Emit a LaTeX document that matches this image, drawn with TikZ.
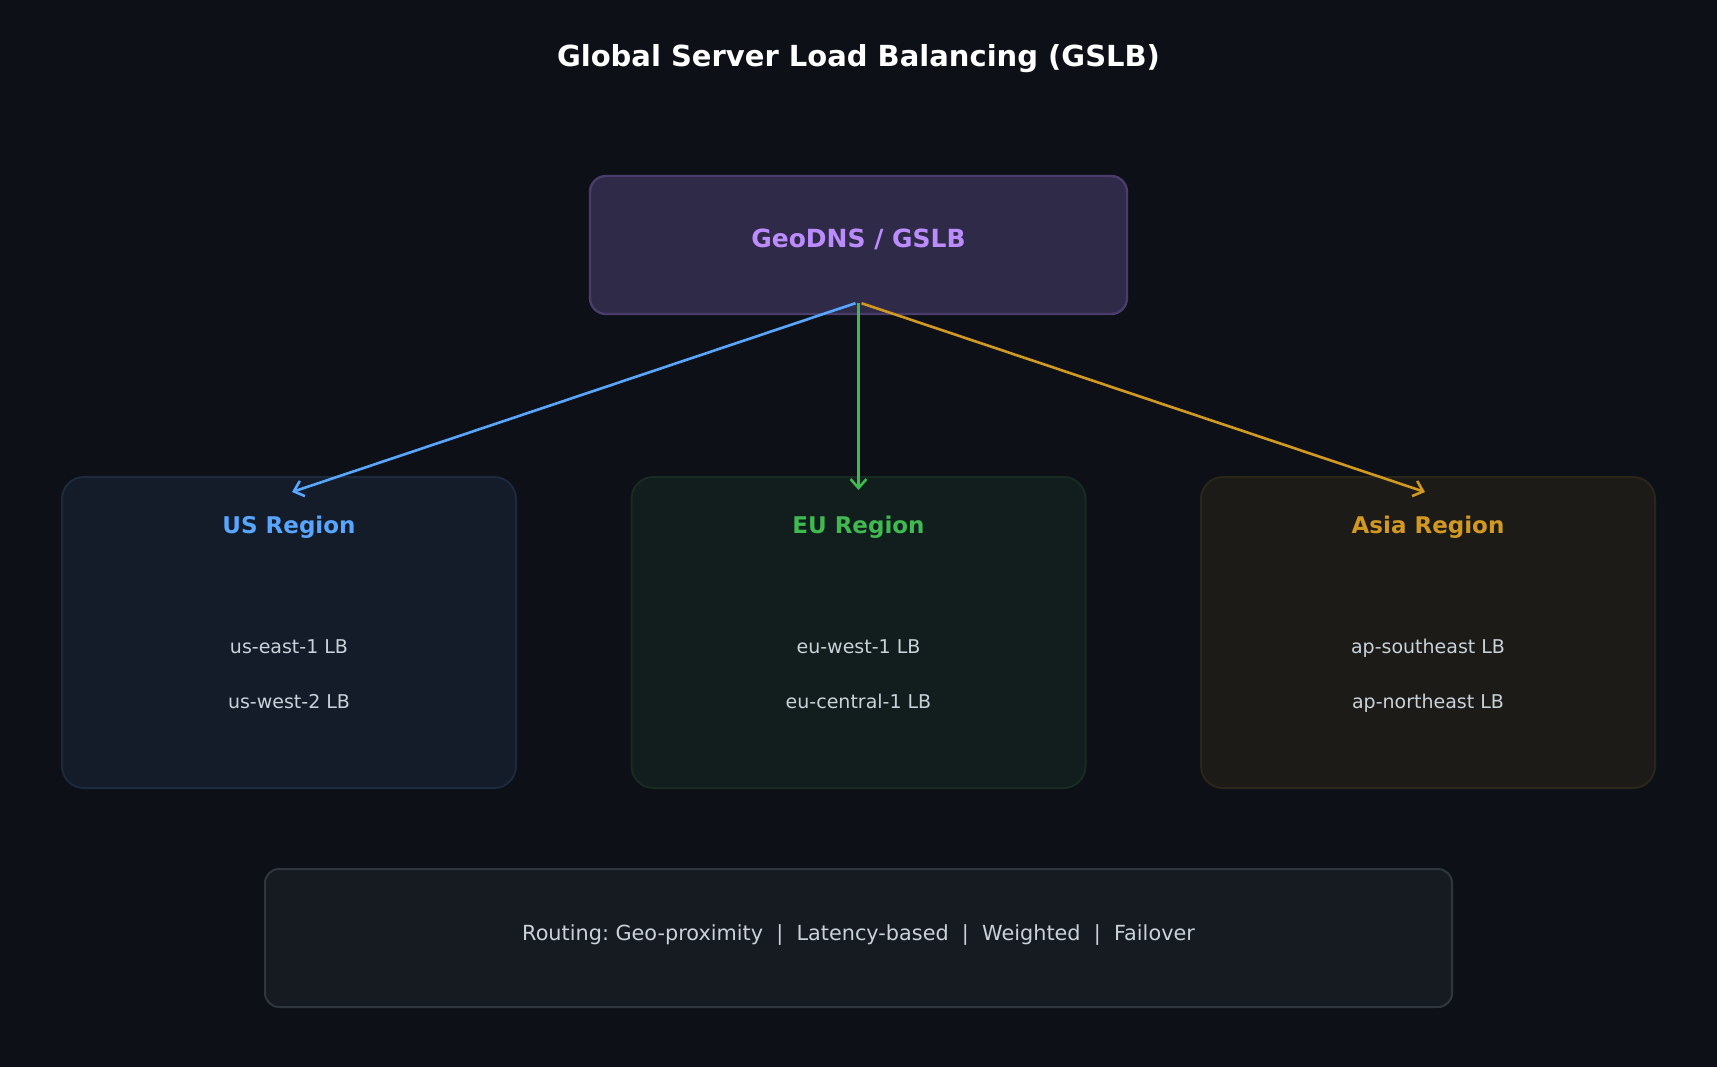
\documentclass[tikz,border=0pt]{standalone}
\usepackage{fontspec}
\setmainfont{DejaVu Sans}
\usetikzlibrary{arrows.meta,calc}
\definecolor{bgdark}{HTML}{0D1117}
\definecolor{geofill}{HTML}{2E2A47}
\definecolor{geoline}{HTML}{4A3D6C}
\definecolor{geotext}{HTML}{BC8CFF}
\definecolor{usblue}{HTML}{58A6FF}
\definecolor{usfill}{HTML}{131C28}
\definecolor{usline}{HTML}{1B2A3D}
\definecolor{eugreen}{HTML}{3FB950}
\definecolor{eufill}{HTML}{111E1D}
\definecolor{euline}{HTML}{172B20}
\definecolor{asiaorange}{HTML}{D29922}
\definecolor{asiafill}{HTML}{1C1B18}
\definecolor{asialine}{HTML}{2A2619}
\definecolor{notefill}{HTML}{161B22}
\definecolor{noteline}{HTML}{30363D}
\definecolor{lbgray}{HTML}{C9D1D9}
\frenchspacing
\tikzset{
  regbox/.style 2 args={rectangle, rounded corners=11pt, draw=#1, fill=#2, line width=1pt,
               minimum width=227pt, minimum height=155.5pt},
  regtitle/.style={font=\fontsize{11.5}{14}\selectfont\bfseries, text=#1},
  lbtext/.style={font=\fontsize{9.5}{12}\selectfont, text=lbgray, text height=0.75em, text depth=0.22em},
  arr/.style={-{Straight Barb[length=4.5pt, width=8pt, line width=1.3pt]}, line width=1.3pt, draw=#1},
}
\begin{document}
\begin{tikzpicture}[x=0.5pt, y=-0.5pt]
  \fill[bgdark] (0,0) rectangle (1717,1067);
  \useasboundingbox (0,0) rectangle (1717,1067);
  \node[font=\fontsize{14.5}{17}\selectfont\bfseries, text=white] (title) at (858.5,59) {Global Server Load Balancing (GSLB)};
  % dns front
  \node[rectangle, rounded corners=8pt, draw=geoline, fill=geofill, line width=1.2pt,
        minimum width=268.5pt, minimum height=69pt] (geo) at (858.5,245) {};
  \node[font=\fontsize{12.5}{15}\selectfont\bfseries, text=geotext] (geolbl) at (858.5,239) {GeoDNS / GSLB};
  % regions
  \node[regbox={usline}{usfill}] (us) at (289,632.5) {};
  \node[regbox={euline}{eufill}] (eu) at (858.5,632.5) {};
  \node[regbox={asialine}{asiafill}] (asia) at (1428,632.5) {};
  \node[regtitle=usblue] (ust) at ($(us.north)+(0,51)$) {US Region};
  \node[lbtext] (us1) at ($(us.north)+(0,172)$) {us-east-1 LB};
  \node[lbtext] (us2) at ($(us.north)+(0,227)$) {us-west-2 LB};
  \node[regtitle=eugreen] (eut) at ($(eu.north)+(0,51)$) {EU Region};
  \node[lbtext] (eu1) at ($(eu.north)+(0,172)$) {eu-west-1 LB};
  \node[lbtext] (eu2) at ($(eu.north)+(0,227)$) {eu-central-1 LB};
  \node[regtitle=asiaorange] (asiat) at ($(asia.north)+(0,51)$) {Asia Region};
  \node[lbtext] (asia1) at ($(asia.north)+(0,172)$) {ap-southeast LB};
  \node[lbtext] (asia2) at ($(asia.north)+(0,227)$) {ap-northeast LB};
  \draw[arr=usblue] ($(geo.south)+(-3,-12)$) -- ($(us.north)+(3,16)$);
  \draw[arr=eugreen] ($(geo.south)+(0,-12)$) -- ($(eu.north)+(0,14)$);
  \draw[arr=asiaorange] ($(geo.south)+(3,-12)$) -- ($(asia.north)+(-3,16)$);
  % routing note
  \node[rectangle, rounded corners=7pt, draw=noteline, fill=notefill, line width=1pt,
        minimum width=593.5pt, minimum height=69pt] (note) at (858.5,938) {};
  \node[font=\fontsize{10.4}{13}\selectfont, text=lbgray] (notelbl) at (858.5,935)
    {Routing: Geo-proximity\ \ |\ \ Latency-based\ \ |\ \ Weighted\ \ |\ \ Failover};
\end{tikzpicture}
\end{document}
